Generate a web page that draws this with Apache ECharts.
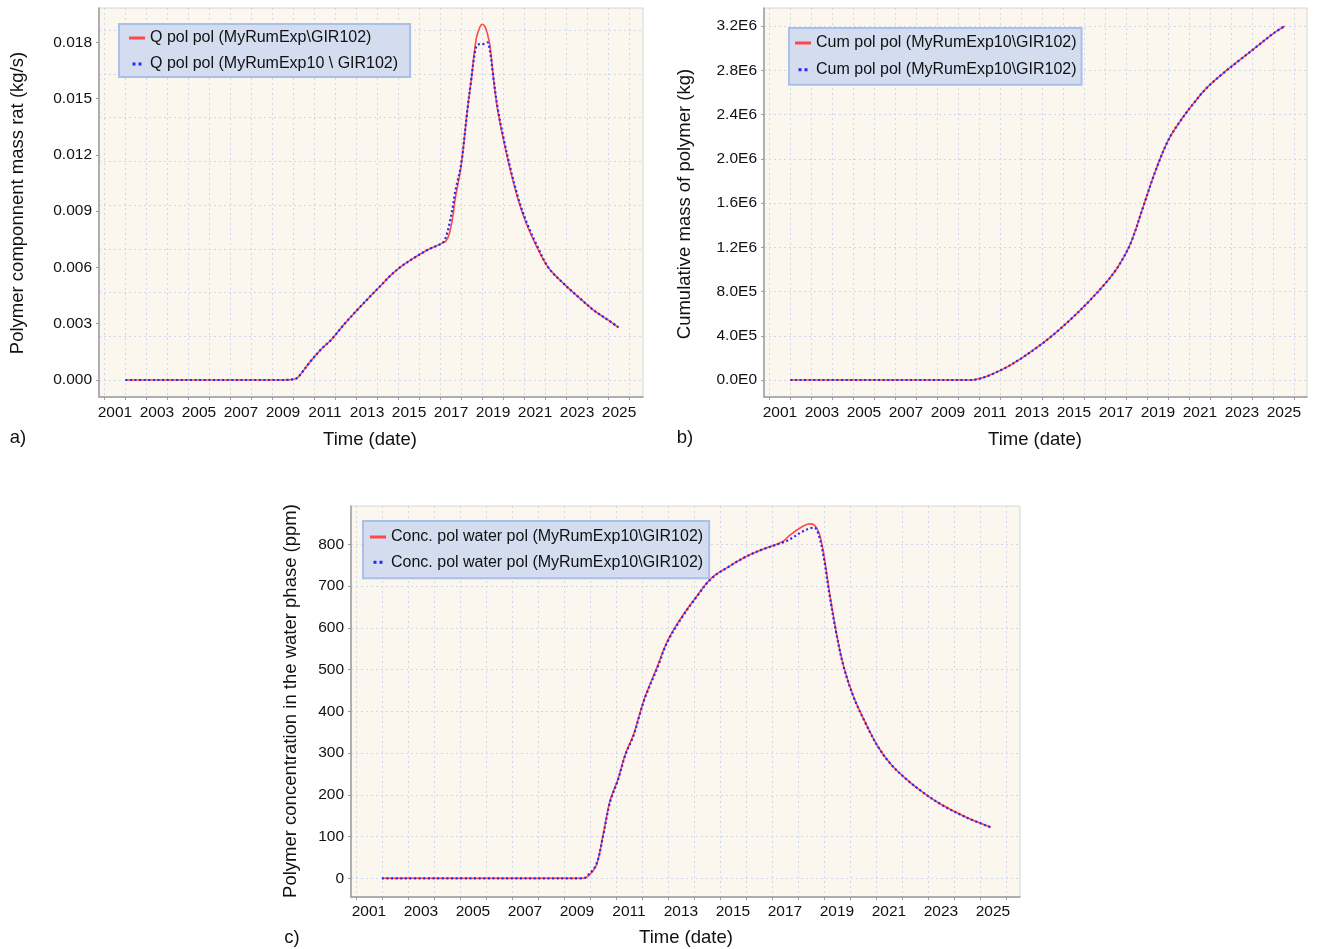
<!DOCTYPE html>
<html>
<head>
<meta charset="utf-8">
<script src="https://cdn.jsdelivr.net/npm/echarts@6/dist/echarts.min.js"></script>
<style>
  html, body { margin: 0; padding: 0; background: #ffffff; }
  #chart { width: 1318px; height: 949px; }
</style>
</head>
<body>
<div id="chart"></div>
<script>
// ---- a) polymer component mass rate (kg/s) ----
const rateNames = ['Q pol pol (MyRumExp\\GIR102)', 'Q pol pol (MyRumExp10 \\ GIR102)'];
const rateYears = [2001.5, 2005, 2009, 2009.55, 2009.72, 2010.3, 2010.85, 2011.3, 2011.95, 2012.55,
  2013.1, 2013.6, 2014.1, 2014.6, 2015.2, 2015.85, 2016.3, 2016.6, 2016.75, 2016.92,
  2017.11, 2017.19, 2017.48, 2017.78, 2017.95, 2018.2, 2018.38, 2018.49, 2018.62, 2018.73,
  2018.86, 2019.01, 2019.22, 2019.5, 2019.8, 2020.2, 2020.6, 2021.08, 2021.63, 2022.35,
  2023.14, 2023.78, 2024.41, 2024.97];
const rateRed = [0, 0, 0, 0.00005, 0.00015, 0.00098, 0.00168, 0.00215, 0.00302, 0.00375,
  0.0044, 0.00497, 0.00555, 0.00603, 0.00648, 0.00692, 0.00715, 0.00731, 0.0074, 0.0078,
  0.0089, 0.0096, 0.0114, 0.0144, 0.0159, 0.0182, 0.01883, 0.01896, 0.01883, 0.01847,
  0.01776, 0.01617, 0.01439, 0.0128, 0.0113, 0.0096, 0.0083, 0.0071, 0.006, 0.00515,
  0.00435, 0.00373, 0.00325, 0.00281];
const rateBlue = [0, 0, 0, 0.00005, 0.00015, 0.00098, 0.00168, 0.00215, 0.00302, 0.00375,
  0.0044, 0.00497, 0.00555, 0.00603, 0.00648, 0.00692, 0.00715, 0.00731, 0.0076, 0.0083,
  0.0094, 0.0100, 0.0115, 0.0144, 0.0159, 0.0178, 0.0179, 0.0179, 0.01795, 0.0180,
  0.0175, 0.0162, 0.0145, 0.0129, 0.0114, 0.0097, 0.0084, 0.0072, 0.006, 0.00515,
  0.00435, 0.00373, 0.00325, 0.00281];
const rateTicks = [0, 0.003, 0.006, 0.009, 0.012, 0.015, 0.018];
const rateGrid = [0, 0.00233, 0.00466, 0.00699, 0.00932, 0.01165, 0.01398, 0.01631, 0.01864];

// ---- b) cumulative mass of polymer (kg) ----
const cumNames = ['Cum pol pol (MyRumExp10\\GIR102)', 'Cum pol pol (MyRumExp10\\GIR102) '];
const cumYears = [2001.5, 2005, 2010.1, 2010.5, 2010.89, 2011.69, 2012.49, 2013.29, 2014.1, 2014.9,
  2015.7, 2016.5, 2017.1, 2017.7, 2018.3, 2018.9, 2019.5, 2020.1, 2020.7, 2021.3,
  2022.1, 2022.9, 2023.7, 2024.5, 2025.04];
const cumRed = [0, 0, 0, 12000, 36000, 105000, 196000, 301000, 422000, 558000,
  708000, 874000, 1024000, 1236000, 1567000, 1898000, 2170000, 2350000, 2501000, 2636000,
  2772000, 2893000, 3013000, 3133000, 3200000];
const cumBlue = [0, 0, 0, 12000, 36000, 105000, 196000, 301000, 422000, 558000,
  708000, 874000, 1024000, 1236000, 1567000, 1898000, 2170000, 2350000, 2501000, 2636000,
  2772000, 2893000, 3013000, 3133000, 3200000];
const cumTicks = [0, 400000, 800000, 1200000, 1600000, 2000000, 2400000, 2800000, 3200000];

// ---- c) polymer concentration in the water phase (ppm) ----
const concNames = ['Conc. pol water pol (MyRumExp10\\GIR102)', 'Conc. pol water pol (MyRumExp10\\GIR102) '];
const concYears = [2001.5, 2005, 2009.24, 2009.45, 2009.75, 2010.01, 2010.27, 2010.58, 2010.87, 2011.17,
  2011.42, 2011.62, 2012.09, 2012.47, 2013.04, 2013.6, 2014.17, 2014.83, 2015.49, 2016.15,
  2016.9, 2017.19, 2017.66, 2017.94, 2018.13, 2018.32, 2018.51, 2018.7, 2018.98, 2019.26,
  2019.64, 2020.11, 2020.58, 2021.05, 2021.62, 2022.28, 2023.03, 2023.97, 2024.92];
const concRed = [0, 0, 0, 6, 32, 105, 185, 238, 299, 343,
  395, 435, 507, 567, 627, 675, 719, 746, 770, 788,
  806, 822, 842, 849, 846, 826, 770, 690, 587, 507,
  435, 371, 315, 275, 240, 207, 176, 146, 122];
const concBlue = [0, 0, 0, 9, 34, 103, 182, 236, 297, 341,
  393, 433, 504, 565, 625, 674, 718, 746, 770, 788,
  804, 812, 830, 838, 840, 818, 762, 684, 585, 506,
  434, 370, 315, 275, 240, 207, 176, 146, 122];
const concTicks = [0, 100, 200, 300, 400, 500, 600, 700, 800];

// ---- shared time axis ----
const yearLabels = [2001, 2003, 2005, 2007, 2009, 2011, 2013, 2015, 2017, 2019, 2021, 2023, 2025];
const yearGrid = [2000.5, 2001.5, 2002.5, 2003.5, 2004.5, 2005.5, 2006.5, 2007.5, 2008.5, 2009.5,
  2010.5, 2011.5, 2012.5, 2013.5, 2014.5, 2015.5, 2016.5, 2017.5, 2018.5, 2019.5,
  2020.5, 2021.5, 2022.5, 2023.5, 2024.5, 2025.5];

const FONT = '"Liberation Sans", Arial, Helvetica, sans-serif';
const RED = '#FF4848';
const BLUE = '#2424FF';
const GRIDLINE = { show: true, lineStyle: { color: '#CFD8EA', width: 1, type: [2, 3] } };
const AXISCOLOR = '#9C9C9C';

const zip = (xs, ys) => xs.map((x, i) => [x, ys[i]]);

function sci(v) {
  if (v === 0) return '0.0E0';
  const e = Math.floor(Math.log10(v) + 1e-9);
  return (v / Math.pow(10, e)).toFixed(1) + 'E' + e;
}

function mainX(gridIndex, min, max, margin) {
  return {
    type: 'value', gridIndex, min, max,
    axisLine: { show: true, onZero: false, lineStyle: { color: AXISCOLOR, width: 1.5 } },
    axisTick: { show: true, customValues: yearGrid, length: 3, lineStyle: { color: AXISCOLOR } },
    axisLabel: { customValues: yearLabels, formatter: v => String(Math.round(v)),
      fontFamily: FONT, fontSize: 15.5, color: '#111', margin },
    splitLine: { show: false }
  };
}
function gridX(gridIndex, min, max) {
  return {
    type: 'value', gridIndex, min, max, position: 'bottom',
    axisLine: { show: false }, axisTick: { show: false, customValues: yearGrid },
    axisLabel: { show: false }, splitLine: GRIDLINE
  };
}
function mainY(gridIndex, min, max, ticks, fmt, split) {
  return {
    type: 'value', gridIndex, min, max,
    axisLine: { show: true, onZero: false, lineStyle: { color: AXISCOLOR, width: 1.5 } },
    axisTick: { show: true, customValues: ticks, length: 3, lineStyle: { color: AXISCOLOR } },
    axisLabel: { customValues: ticks, formatter: fmt, fontFamily: FONT, fontSize: 15.5, color: '#111', margin: 7 },
    splitLine: split ? GRIDLINE : { show: false }
  };
}

const redIcon = 'path://M0,0H16V3H0Z';
const blueIcon = 'path://M0,0H3V3H0Z M6,0H9V3H6Z';

function legendBox(names, left, top, padding, itemGap) {
  return {
    orient: 'vertical', left, top, padding, itemGap,
    itemWidth: 16, itemHeight: 3,
    backgroundColor: '#D3DDEF', borderColor: '#A8C0EA', borderWidth: 2, borderRadius: 0,
    selectedMode: false,
    formatter: n => n.trim(),
    textStyle: { fontFamily: FONT, fontSize: 16, color: '#111' },
    data: [
      { name: names[0], icon: redIcon, itemStyle: { color: RED, borderWidth: 0 } },
      { name: names[1], icon: blueIcon, itemStyle: { color: BLUE, borderWidth: 0 } }
    ]
  };
}

function redLine(name, xi, yi, data) {
  return { type: 'line', name, xAxisIndex: xi, yAxisIndex: yi, data, symbol: 'none', showSymbol: false,
    smooth: 0.35, color: RED, lineStyle: { color: RED, width: 1.6 }, z: 3 };
}
function blueLine(name, xi, yi, data) {
  return { type: 'line', name, xAxisIndex: xi, yAxisIndex: yi, data, symbol: 'none', showSymbol: false,
    smooth: 0.35, color: BLUE, lineStyle: { color: BLUE, width: 2.2, type: [2, 2.6] }, z: 4 };
}

function text(str, x, y, rot) {
  return { type: 'text', x, y, rotation: rot || 0, z: 10,
    style: { text: str, font: '18.5px ' + FONT, fill: '#111', align: 'center', verticalAlign: 'middle' } };
}

const plotBg = { show: true, backgroundColor: '#FBF7EE', borderColor: '#D6D6D6', borderWidth: 1 };

const option = {
  animation: false,
  backgroundColor: '#ffffff',
  textStyle: { fontFamily: FONT },
  grid: [
    Object.assign({ left: 99, top: 8, width: 544, height: 389, outerBoundsMode: 'none' }, plotBg),
    Object.assign({ left: 764, top: 8, width: 543, height: 389, outerBoundsMode: 'none' }, plotBg),
    Object.assign({ left: 351, top: 506, width: 669, height: 391, outerBoundsMode: 'none' }, plotBg)
  ],
  xAxis: [
    mainX(0, 2000.24, 2026.14, 8), gridX(0, 2000.24, 2026.14),
    mainX(1, 2000.24, 2026.1, 8), gridX(1, 2000.24, 2026.1),
    mainX(2, 2000.31, 2026.04, 7), gridX(2, 2000.31, 2026.04)
  ],
  yAxis: [
    mainY(0, -0.000906, 0.01983, rateTicks, v => v.toFixed(3), false),
    {
      type: 'value', gridIndex: 0, min: -0.000906, max: 0.01983,
      axisLine: { show: false }, axisTick: { show: false, customValues: rateGrid },
      axisLabel: { show: false }, splitLine: GRIDLINE
    },
    mainY(1, -153700, 3363000, cumTicks, sci, true),
    mainY(2, -44.8, 891.7, concTicks, v => String(Math.round(v)), true)
  ],
  legend: [
    legendBox(rateNames, 119, 24, [6, 12, 5, 10], 10),
    legendBox(cumNames, 789, 28, [7, 5, 7, 6], 10.7),
    legendBox(concNames, 363, 521, [8, 6, 8, 7], 9.3)
  ],
  series: [
    redLine(rateNames[0], 0, 0, zip(rateYears, rateRed)),
    blueLine(rateNames[1], 0, 0, zip(rateYears, rateBlue)),
    redLine(cumNames[0], 2, 2, zip(cumYears, cumRed)),
    blueLine(cumNames[1], 2, 2, zip(cumYears, cumBlue)),
    redLine(concNames[0], 4, 3, zip(concYears, concRed)),
    blueLine(concNames[1], 4, 3, zip(concYears, concBlue))
  ],
  graphic: [
    text('Polymer componnent mass rat (kg/s)', 18, 203, Math.PI / 2),
    text('Cumulative mass of polymer (kg)', 685, 204, Math.PI / 2),
    text('Polymer concentration in the water phase (ppm)', 291, 701, Math.PI / 2),
    text('Time (date)', 370, 440),
    text('Time (date)', 1035, 440),
    text('Time (date)', 686, 938),
    text('a)', 18, 438),
    text('b)', 685, 438),
    text('c)', 292, 938)
  ]
};

const chart = echarts.init(document.getElementById('chart'), null, { renderer: 'canvas', width: 1318, height: 949 });
chart.setOption(option);
</script>
</body>
</html>
